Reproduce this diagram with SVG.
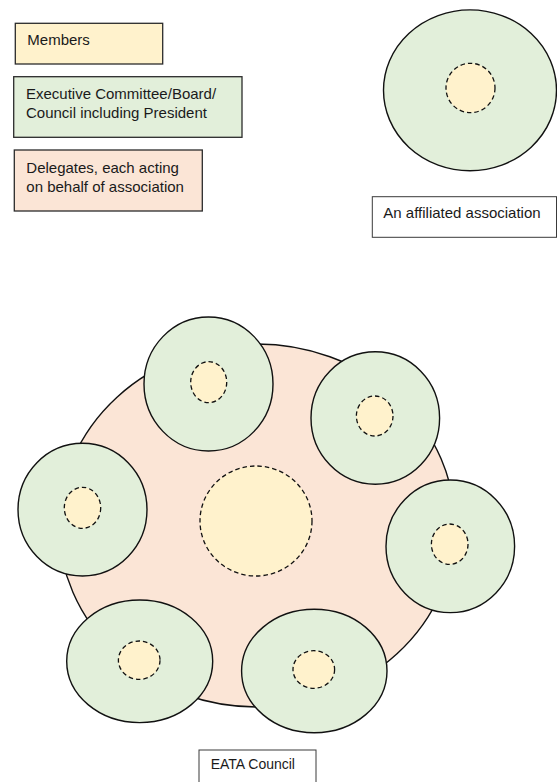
<svg xmlns="http://www.w3.org/2000/svg" width="557" height="782" viewBox="0 0 557 782">
<style>
.t{font-family:"Liberation Sans",Arial,sans-serif;font-size:15px;fill:#1a1a1a}
.box{stroke:#2b2b2b;stroke-width:1.3}
.lbl{fill:#ffffff;stroke:#3a3a3a;stroke-width:1}
.mem{fill:#FFF2CC}
.exec{fill:#E2EFDA}
.del{fill:#FBE5D6}
.ol{stroke:#111;stroke-width:1.4}
.dash{fill:#FFF2CC;stroke:#111;stroke-width:1.3;stroke-dasharray:4.5 3}
</style>
<rect width="557" height="782" fill="#ffffff"/>
<g id="legend-members">
<rect class="box mem" x="15.3" y="23.3" width="147.4" height="40.7"/>
<text class="t" x="27.3" y="45">Members</text>
</g>
<g id="legend-executive">
<rect class="box exec" x="13.7" y="76.7" width="228.3" height="60.6"/>
<text class="t" x="26" y="99">Executive Committee/Board/</text>
<text class="t" x="26" y="118.3">Council including President</text>
</g>
<g id="legend-delegates">
<rect class="box del" x="14.3" y="150" width="188" height="61"/>
<text class="t" x="26.3" y="172.7">Delegates, each acting</text>
<text class="t" x="26.3" y="192.3">on behalf of association</text>
</g>
<g id="affiliated-association">
<ellipse class="exec ol" cx="470" cy="90.3" rx="86.5" ry="80.4"/>
<ellipse class="dash" cx="470.5" cy="88" rx="24.5" ry="24.7"/>
</g>
<g id="affiliated-label">
<rect class="lbl" x="372.3" y="196.7" width="184.2" height="40.6"/>
<text class="t" x="383.3" y="218.3">An affiliated association</text>
</g>
<g id="eata-council">
<ellipse class="del ol" cx="257" cy="525.5" rx="198" ry="181.5"/>
<ellipse class="dash" cx="256" cy="521" rx="56" ry="55"/>
</g>
<g id="assoc-top">
<ellipse class="exec ol" cx="208.5" cy="384" rx="64.5" ry="67"/>
<ellipse class="dash" cx="208.7" cy="382.2" rx="18" ry="20.5"/>
</g>
<g id="assoc-upper-right">
<ellipse class="exec ol" cx="375.3" cy="418" rx="64.3" ry="66.2"/>
<ellipse class="dash" cx="374.7" cy="416" rx="18.3" ry="20"/>
</g>
<g id="assoc-left">
<ellipse class="exec ol" cx="82.5" cy="509.6" rx="64.5" ry="66.4"/>
<ellipse class="dash" cx="82.5" cy="507.8" rx="18.2" ry="20.5"/>
</g>
<g id="assoc-right">
<ellipse class="exec ol" cx="450.3" cy="546.3" rx="64.3" ry="66.3"/>
<ellipse class="dash" cx="449.7" cy="544.2" rx="18.3" ry="20.2"/>
</g>
<g id="assoc-bottom-left">
<ellipse class="exec ol" cx="139.7" cy="661.3" rx="73" ry="61.3"/>
<ellipse class="dash" cx="139.2" cy="660.2" rx="20.8" ry="19.2"/>
</g>
<g id="assoc-bottom-right">
<ellipse class="exec ol" cx="314.3" cy="671" rx="72.7" ry="61.7"/>
<ellipse class="dash" cx="313.8" cy="669.5" rx="20.8" ry="18.8"/>
</g>
<g id="connectors"></g>
<g id="eata-label">
<rect class="lbl" x="199" y="750" width="117" height="40"/>
<text class="t" x="210.7" y="769.3" style="font-size:14px">EATA Council</text>
</g>
</svg>
